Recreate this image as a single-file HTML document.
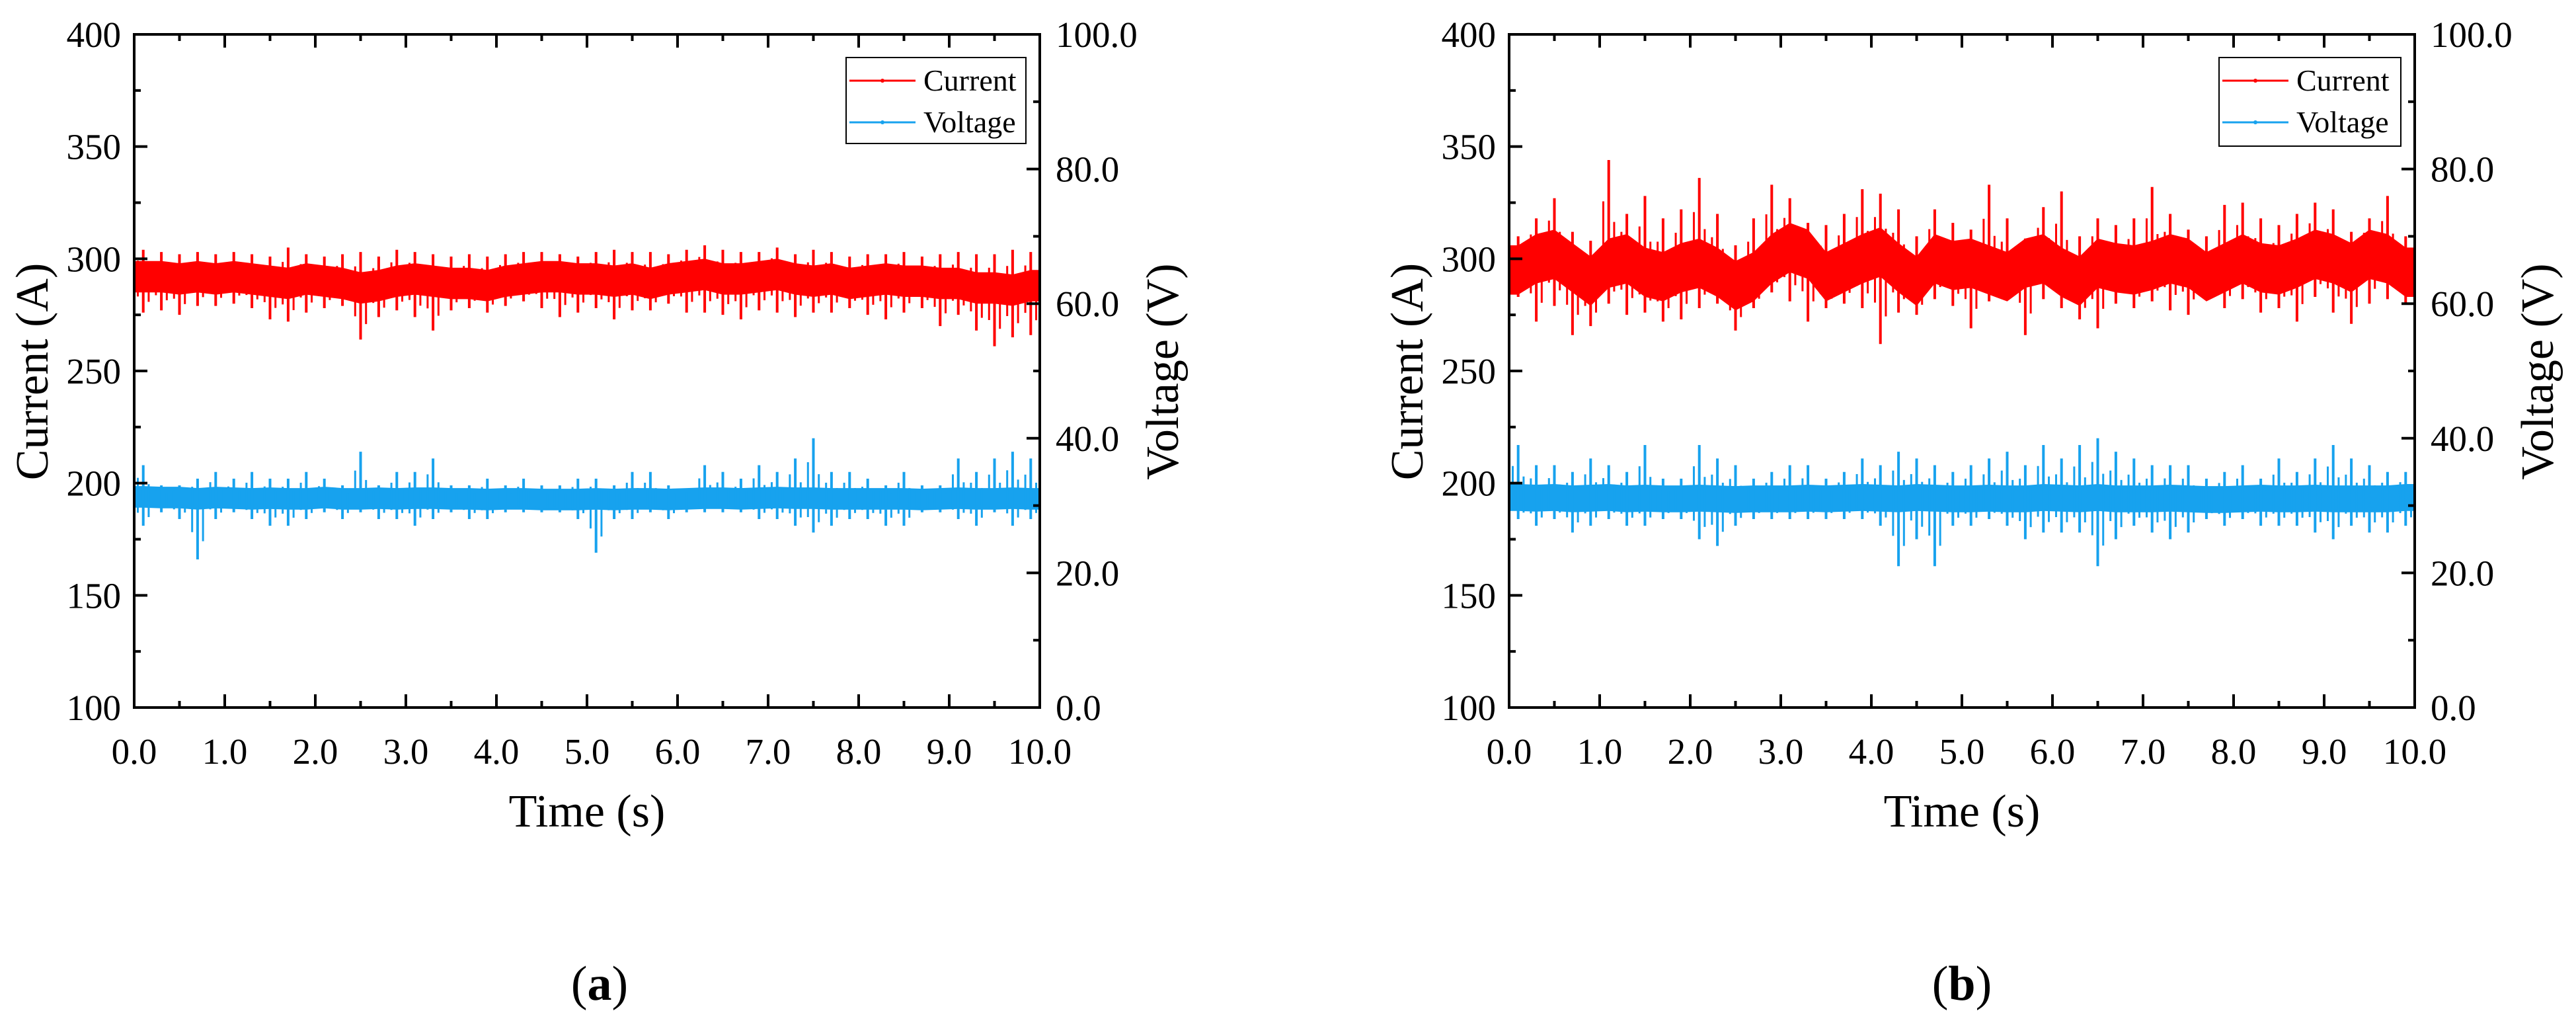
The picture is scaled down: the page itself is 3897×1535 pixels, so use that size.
<!DOCTYPE html>
<html><head><meta charset="utf-8"><style>
html,body{margin:0;padding:0;background:#fff;}
svg{display:block;font-family:"Liberation Serif",serif;}
</style></head><body>
<svg id="fig" width="3897" height="1535" viewBox="0 0 3897 1535" xmlns="http://www.w3.org/2000/svg">
<rect x="0" y="0" width="3897" height="1535" fill="#fff"/>
</svg>
<script>
// ---- data (bins of 0.2 s, 0.1..9.9 s centers) ----
const timeTicks = [0,1,2,3,4,5,6,7,8,9,10];
const timeTickLabels = ["0.0","1.0","2.0","3.0","4.0","5.0","6.0","7.0","8.0","9.0","10.0"];
const currentTicks = [100,150,200,250,300,350,400];
const currentTickLabels = ["100","150","200","250","300","350","400"];
const voltageTicks = [0,20,40,60,80,100];
const voltageTickLabels = ["0.0","20.0","40.0","60.0","80.0","100.0"];

const aCurrentMean = [292,292,291,292,291,292,291,290,289,291,290,289,287,288,290,291,290,289,289,288,290,291,292,292,291,291,290,291,289,291,292,293,291,291,292,293,291,290,291,289,290,291,290,290,289,289,287,287,286,288];
const aCurrentHi = [304,303,302,303,302,303,302,301,305,302,301,302,303,301,304,303,302,301,302,301,302,303,303,302,301,303,304,303,303,302,304,306,304,303,303,305,302,304,303,301,302,302,303,301,302,303,302,302,304,303];
const aCurrentLo = [276,277,275,279,279,280,278,273,272,276,278,279,264,274,277,274,268,277,278,276,279,281,278,274,276,278,273,277,277,280,276,276,275,273,277,276,274,276,276,278,275,273,276,278,270,275,268,261,265,266];
const aVoltageMean = [31.3,31.2,31.2,31.0,31.2,31.1,31.0,31.1,31.0,31.0,31.2,31.0,31.0,31.1,31.0,31.1,31.1,31.0,31.0,30.9,31.0,31.0,30.9,30.9,30.9,31.0,30.9,31.0,31.0,30.9,31.0,31.1,31.1,31.0,31.1,31.2,31.1,31.1,31.0,31.0,31.0,31.0,31.0,30.9,31.0,31.1,31.0,31.0,31.1,31.0];
const aVoltageHi = [36,33,33,34,35,34,35,34,34,35,34,33,38,33,35,35,37,33,33,34,33,34,33,33,34,34,33,35,35,33,32,36,35,34,36,35,37,40,35,35,34,33,35,33,33,37,35,37,38,37];
const aVoltageLo = [27,29,28,22,28,29,28,27,27,28,29,28,29,28,28,27,28,29,28,28,29,29,29,29,28,23,28,28,29,28,29,29,29,29,28,28,27,26,27,28,28,27,27,29,29,28,27,29,27,28];

const bCurrentMean = [295,300,302,296,290,298,300,294,292,296,298,294,288,292,300,305,302,292,296,300,303,296,290,300,297,298,295,292,298,300,294,290,298,296,295,297,300,298,292,296,300,296,295,298,302,300,296,302,300,294];
const bCurrentHi = [310,318,327,312,308,344,320,328,318,322,336,320,306,318,333,327,316,315,320,331,329,322,310,322,316,313,333,318,309,323,330,310,318,315,318,332,320,313,310,324,325,318,315,320,325,322,312,318,328,310];
const bCurrentLo = [283,272,279,266,270,280,275,276,272,273,278,280,268,278,285,281,272,278,280,278,262,276,275,282,279,269,281,285,266,282,278,273,269,280,278,281,277,275,282,278,282,276,278,272,283,276,271,280,282,280];
const bVoltageMean = [31.2,31.1,31.2,31.0,31.1,31.2,31.0,31.1,31.0,31.0,31.1,31.0,30.9,31.0,31.0,31.0,31.1,31.0,31.1,31.2,31.1,31.0,31.2,31.1,31.0,31.0,31.1,31.0,31.0,31.2,31.1,31.0,31.2,31.0,31.0,31.0,31.1,31.0,30.9,30.9,31.0,31.1,31.0,31.0,31.1,31.0,31.0,31.0,31.0,31.2];
const bVoltageHi = [39,36,36,35,37,36,35,39,34,34,39,37,36,34,35,36,36,34,35,37,36,38,37,36,35,36,37,38,36,39,37,39,40,38,37,36,36,36,34,35,36,34,37,35,37,39,37,36,35,35];
const bVoltageLo = [28,27,28,26,27,28,27,27,28,28,25,24,27,28,28,28,28,28,28,28,27,21,25,21,27,27,28,27,25,26,26,26,21,25,27,26,25,26,28,27,28,27,27,27,26,25,27,26,26,27];

const NS = "http://www.w3.org/2000/svg";
const svg = document.getElementById('fig');
function mk(tag, attrs, parent){
  const e = document.createElementNS(NS, tag);
  for (const k in attrs) e.setAttribute(k, attrs[k]);
  (parent||svg).appendChild(e);
  return e;
}
const RED = "#ff0000", BLUE = "#17a2ee";

function panel(p){
  const g = mk('g', {});
  
  
  const x = t => p.x0 + t/10*(p.x1-p.x0);
  const yA = a => p.y1 - (a-100)/300*(p.y1-p.y0);
  const yV = v => p.y1 - v/100*(p.y1-p.y0);
  const bw = (p.x1-p.x0)/p.cm.length;

  function series(mean, hi, lo, spread, yf, color, nm){
    const sg = mk('g', {}, g);
    
    
    let top = [x(0).toFixed(1)+','+yf(mean[0]+spread).toFixed(1)];
    let bot = [x(0).toFixed(1)+','+yf(mean[0]-spread).toFixed(1)];
    for (let i=0;i<mean.length;i++){
      const tc = i*0.2+0.1;
      top.push(x(tc).toFixed(1)+','+yf(mean[i]+spread).toFixed(1));
      bot.unshift(x(tc).toFixed(1)+','+yf(mean[i]-spread).toFixed(1));
    }
    const n = mean.length-1;
    top.push(x(10).toFixed(1)+','+yf(mean[n]+spread).toFixed(1));
    bot.unshift(x(10).toFixed(1)+','+yf(mean[n]-spread).toFixed(1));
    const band = mk('polygon', {points: top.concat(bot).join(' '), fill: color}, sg);
    
    
    for (let i=0;i<hi.length;i++){
      const cx = x(i*0.2+0.1);
      const l = mk('line', {x1:cx, x2:cx, y1:yf(hi[i]), y2:yf(lo[i]), stroke: color, 'stroke-width': 4}, sg);
      
      
      const l2 = mk('line', {x1:cx-bw*0.3, x2:cx-bw*0.3, y1:yf(mean[i]+(hi[i]-mean[i])*0.6), y2:yf(mean[i]-(mean[i]-lo[i])*0.55), stroke: color, 'stroke-width': 3}, sg);
      
      
      const l3 = mk('line', {x1:cx+bw*0.3, x2:cx+bw*0.3, y1:yf(mean[i]+(hi[i]-mean[i])*0.4), y2:yf(mean[i]-(mean[i]-lo[i])*0.7), stroke: color, 'stroke-width': 3}, sg);
      
      
    }
  }
  series(p.cm, p.ch, p.cl, p.cs, yA, RED, 'current-series');
  series(p.vm, p.vh, p.vl, p.vs, yV, BLUE, 'voltage-series');

  const fr = mk('rect', {x:p.x0, y:p.y0, width:p.x1-p.x0, height:p.y1-p.y0, fill:'none', stroke:'#000', 'stroke-width':4}, g);
  
  

  const tg = mk('g', {stroke:'#000', 'stroke-width':4}, g);
  
  
  for (let t=0;t<=10;t+=0.5){
    const L = (t%1===0)?20:10, xx = x(t);
    mk('line', {x1:xx,x2:xx,y1:p.y1,y2:p.y1-L}, tg);
    mk('line', {x1:xx,x2:xx,y1:p.y0,y2:p.y0+L}, tg);
  }
  for (let a=100;a<=400;a+=25){
    const L = (a%50===0)?20:10;
    mk('line', {x1:p.x0,x2:p.x0+L,y1:yA(a),y2:yA(a)}, tg);
  }
  for (let v=0;v<=100;v+=10){
    const L = (v%20===0)?20:10;
    mk('line', {x1:p.x1,x2:p.x1-L,y1:yV(v),y2:yV(v)}, tg);
  }
  timeTicks.forEach((t,i)=>{
    const e = mk('text', {x:x(t), y:1155, 'font-size':55, 'text-anchor':'middle'}, g);
    e.textContent = timeTickLabels[i];
    
    
  });
  currentTicks.forEach((a,i)=>{
    const e = mk('text', {x:p.x0-20, y:yA(a)+19, 'font-size':55, 'text-anchor':'end'}, g);
    e.textContent = currentTickLabels[i];
    
    
  });
  voltageTicks.forEach((v,i)=>{
    const e = mk('text', {x:p.x1+24, y:yV(v)+19, 'font-size':55, 'text-anchor':'start'}, g);
    e.textContent = voltageTickLabels[i];
    
    
  });
  const xt = mk('text', {x:(p.x0+p.x1)/2, y:1250, 'font-size':70, 'text-anchor':'middle'}, g);
  xt.textContent = 'Time (s)';
  
  
  const cyc = 562;
  const yt = mk('text', {x:p.x0-131, y:cyc, 'font-size':70, 'text-anchor':'middle', transform:'rotate(-90 '+(p.x0-131)+' '+cyc+')'}, g);
  yt.textContent = 'Current (A)';
  
  
  const vt = mk('text', {x:p.x1+209, y:cyc, 'font-size':70, 'text-anchor':'middle', transform:'rotate(-90 '+(p.x1+209)+' '+cyc+')'}, g);
  vt.textContent = 'Voltage (V)';
  
  

  const lg = mk('g', {}, g);
  
  
  mk('rect', {x:p.lx, y:87, width:p.lw, height:p.lh, fill:'#fff', stroke:'#000', 'stroke-width':2}, lg);
  [[RED,'Current',122,137],[BLUE,'Voltage',185,200]].forEach(([c,txt,ly,ty])=>{
    const en = mk('g', {}, lg);
    
    
    mk('line', {x1:p.lx+5, x2:p.lx+105, y1:ly, y2:ly, stroke:c, 'stroke-width':3}, en);
    mk('circle', {cx:p.lx+55, cy:ly, r:3, fill:c}, en);
    const t = mk('text', {x:p.lx+117, y:ty, 'font-size':46}, en);
    t.textContent = txt;
  });
  const cap = mk('text', {x:p.capx, y:1512, 'font-size':74, 'text-anchor':'middle'}, g);
  cap.innerHTML = '(<tspan font-weight="bold">'+p.cap+'</tspan>)';
  
  
}

panel({name:'panel-a', x0:203, x1:1573, y0:52, y1:1070, lx:1280, lw:272, lh:130, capx:907, cap:'a',
  cm:aCurrentMean, ch:aCurrentHi, cl:aCurrentLo, cs:7,
  vm:aVoltageMean, vh:aVoltageHi, vl:aVoltageLo, vs:1.6});
panel({name:'panel-b', x0:2283, x1:3653, y0:52, y1:1070, lx:3357, lw:275, lh:134, capx:2968, cap:'b',
  cm:bCurrentMean, ch:bCurrentHi, cl:bCurrentLo, cs:11,
  vm:bVoltageMean, vh:bVoltageHi, vl:bVoltageLo, vs:2.0});
</script>
</body></html>
